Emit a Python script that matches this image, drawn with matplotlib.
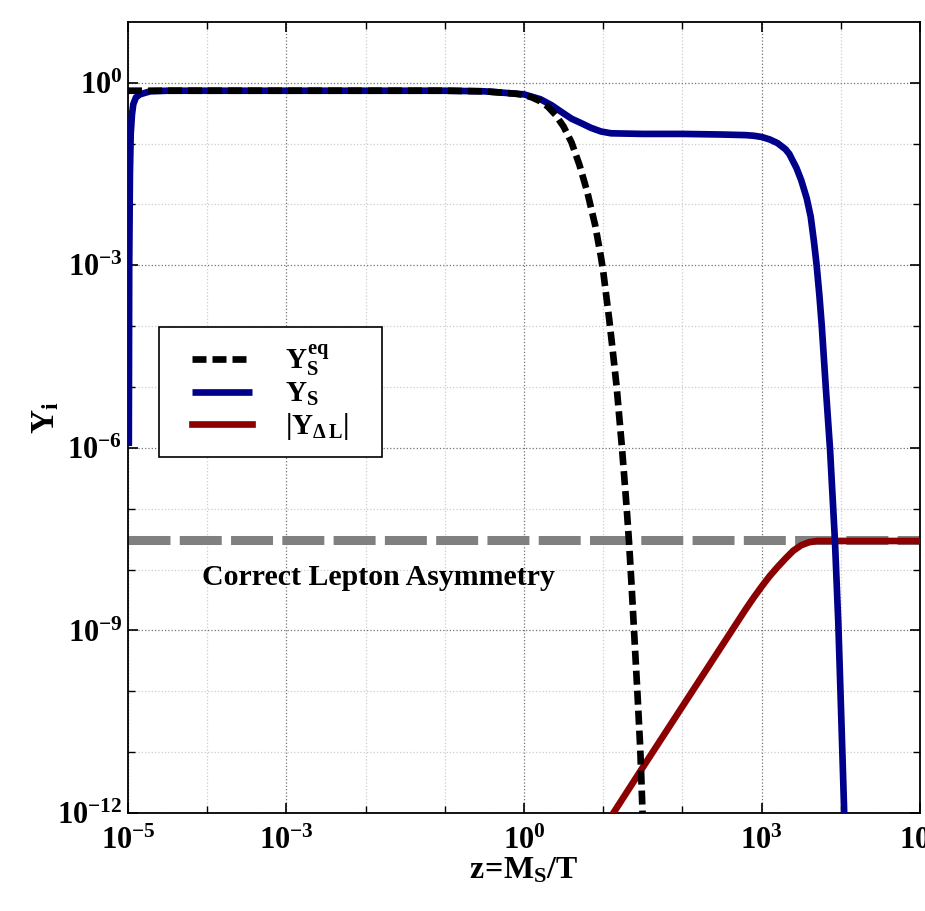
import numpy as np
import matplotlib
matplotlib.use("Agg")
from matplotlib import pyplot as plt
from matplotlib.patches import Rectangle
from matplotlib.ticker import FixedLocator, LogFormatterMathtext, NullFormatter

plt.rcParams['font.family'] = 'Liberation Serif'
plt.rcParams['font.weight'] = 'bold'
plt.rcParams['mathtext.fontset'] = 'custom'
plt.rcParams['mathtext.rm'] = 'Liberation Serif:bold'
plt.rcParams['mathtext.it'] = 'Liberation Serif:bold'
plt.rcParams['mathtext.bf'] = 'Liberation Serif:bold'

# values, as log10(z) and log10(Y)
logz_eq = np.array([-5.0, -3.0, -1.0, -0.5, -0.29, -0.1, 0.0, 0.1, 0.2, 0.3, 0.4, 0.5,
                    0.6, 0.7, 0.8, 0.9, 0.97, 1.0, 1.077, 1.12, 1.17, 1.2, 1.237, 1.27,
                    1.297, 1.326, 1.36, 1.389, 1.431, 1.468, 1.494, 1.52])
logY_eq = np.array([-0.13, -0.13, -0.13, -0.14, -0.16, -0.18, -0.2, -0.24, -0.30, -0.39,
                    -0.53, -0.72, -0.98, -1.35, -1.8, -2.35, -2.85, -3.1, -3.9, -4.4,
                    -5.0, -5.45, -6.0, -6.55, -7.0, -7.55, -8.3, -9.0, -10.0, -10.95,
                    -11.9, -12.9])

logz_s = np.array([-4.99, -4.985, -4.976, -4.966, -4.95, -4.933, -4.9, -4.85, -4.72, -4.5,
                   -1.0, -0.5, -0.29, 0.0, 0.207, 0.35, 0.462, 0.6, 0.717, 0.845, 0.972,
                   1.1, 1.5, 2.0, 2.5, 2.8, 2.9, 3.0, 3.1, 3.2, 3.3, 3.35, 3.44, 3.5,
                   3.57, 3.62, 3.66, 3.695, 3.73, 3.76, 3.81, 3.864, 3.926, 3.969,
                   4.01, 4.05])
logY_s = np.array([-5.97, -3.0, -1.5, -0.84, -0.52, -0.35, -0.24, -0.19, -0.14, -0.13,
                   -0.13, -0.14, -0.16, -0.19, -0.27, -0.37, -0.47, -0.59, -0.66, -0.74,
                   -0.80, -0.83, -0.84, -0.84, -0.85, -0.86, -0.87, -0.89, -0.93, -0.99,
                   -1.09, -1.17, -1.4, -1.6, -1.9, -2.2, -2.6, -3.0, -3.5, -4.0, -5.0,
                   -6.02, -7.53, -8.9, -10.6, -12.3])

logz_dl = np.array([1.0, 1.5, 2.0, 2.5, 2.8, 2.9, 3.0, 3.1, 3.2, 3.3, 3.4, 3.5, 3.6,
                    3.7, 5.0])
logY_dl = np.array([-12.26, -11.25, -10.25, -9.25, -8.65, -8.46, -8.28, -8.11, -7.96,
                    -7.82, -7.69, -7.6, -7.55, -7.53, -7.53])

Y_obs = 10**-7.52

xticks_major = [1e-5, 1e-3, 1e0, 1e3, 1e5]
yticks_major = [1e-12, 1e-9, 1e-6, 1e-3, 1e0]

fig = plt.figure(figsize=(9.25, 9.11), dpi=100)
ax = fig.add_axes([0.1384, 0.1076, 0.8562, 0.8683])

ax.axhline(Y_obs, color='#808080', lw=6.5, dashes=(4.65, 1.03), zorder=2)
ax.plot(10**logz_dl, 10**logY_dl, color='#8b0000', lw=4.8, zorder=3,
        label=r'$|Y_{\Delta\,L}|$')
ax.plot(10**logz_s, 10**logY_s, color='#00008b', lw=4.8, zorder=4,
        solid_capstyle='butt', label=r'$Y_S$')
ax.plot(10**logz_eq, 10**logY_eq, color='black', lw=4.8, dashes=(2.1, 0.9),
        zorder=5, label=r'$Y_S^{eq}$')

ax.set_xscale('log')
ax.set_yscale('log')
ax.set_xlim(1e-5, 1e5)
ax.set_ylim(1e-12, 1e1)

ax.xaxis.set_major_locator(FixedLocator(xticks_major))
ax.xaxis.set_minor_locator(FixedLocator([10.0**k for k in range(-5, 6) if 10.0**k not in xticks_major]))
ax.yaxis.set_major_locator(FixedLocator(yticks_major))
ax.yaxis.set_minor_locator(FixedLocator([10.0**k for k in range(-12, 1) if 10.0**k not in yticks_major]))
ax.xaxis.set_major_formatter(LogFormatterMathtext())
ax.yaxis.set_major_formatter(LogFormatterMathtext())
ax.xaxis.set_minor_formatter(NullFormatter())
ax.yaxis.set_minor_formatter(NullFormatter())

ax.tick_params(which='both', direction='in', top=True, right=True, labelsize=22)
ax.tick_params(which='major', length=7, width=1.2)
ax.tick_params(which='minor', length=5, width=1.0)
ax.tick_params(axis='x', which='major', pad=10)
ax.tick_params(axis='y', which='major', pad=4)
ax.grid(which='major', ls=':', color='0.45', lw=0.9)
ax.grid(which='minor', ls=':', color='0.8', lw=0.9)
for s in ax.spines.values():
    s.set_linewidth(1.3)

ax.set_xlabel(r'$z\!=\!M_S/T$', fontsize=23, labelpad=0)
ax.set_ylabel(r'$Y_i$', fontsize=24)
ax.yaxis.set_label_coords(-0.085, 0.5)

ax.text(10**-4.07, 10**-8.26, 'Correct Lepton Asymmetry', fontsize=21.5,
        fontweight='bold', ha='left', va='baseline')

# legend frame drawn as a box, entries placed inside it
ax.add_patch(Rectangle((0.039, 0.450), 0.2816, 0.1643, transform=ax.transAxes,
                       facecolor='white', edgecolor='black', lw=1.2, zorder=6))
h, l = ax.get_legend_handles_labels()
leg = ax.legend(h[::-1], l[::-1], loc='upper left', bbox_to_anchor=(0.062, 0.614),
                borderaxespad=0, fontsize=21, handlelength=2.05, handletextpad=1.13,
                labelspacing=0.1, borderpad=0.52, frameon=False)
leg.set_zorder(7)

fig.savefig('out.png', dpi=100)
